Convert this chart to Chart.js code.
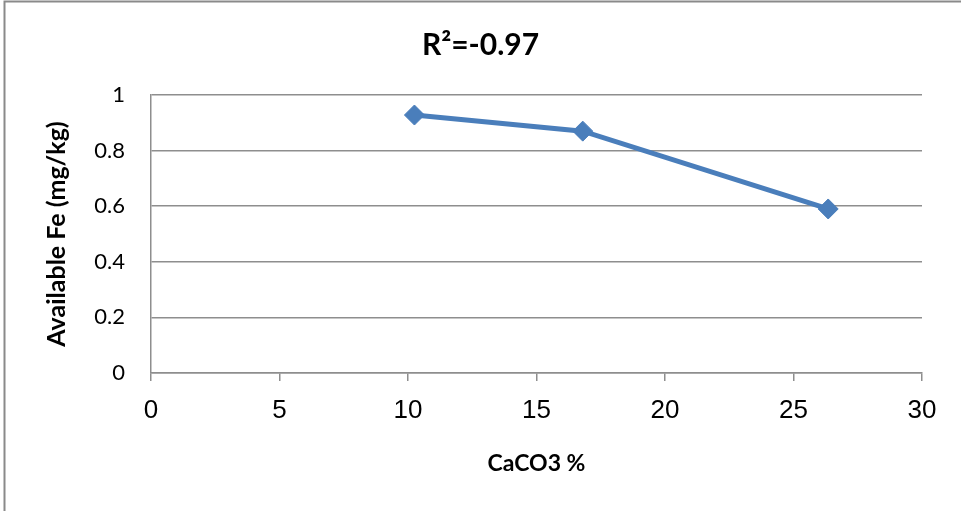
<!DOCTYPE html>
<html>
<head>
<meta charset="utf-8">
<title>Available Fe vs CaCO3</title>
<script src="https://cdn.jsdelivr.net/npm/chart.js@4/dist/chart.umd.min.js"></script>
<style>
  html, body { margin: 0; padding: 0; background: #ffffff; }
  #wrap { width: 961px; height: 511px; position: relative; }
</style>
</head>
<body>
<div id="wrap"><canvas id="chart" width="961" height="511"></canvas></div>
<script>
// CaCO3 content (%) and the matching available Fe (mg/kg)
const caco3Percent = [10.25, 16.8, 26.35];
const availableFe = [0.928, 0.870, 0.590];
const xTicks = [0, 5, 10, 15, 20, 25, 30];
const yTicks = [0, 0.2, 0.4, 0.6, 0.8, 1];
const chartTitle = 'R\u00B2=-0.97';
const xTitle = 'CaCO3 %';
const yTitle = 'Available Fe (mg/kg)';

const gridGray = '#8e8e8e';
const lineBlue = '#4a7ebb';
const boldFamily = 'Lato, "Open Sans", sans-serif';
const narrowFamily = '"Liberation Sans Narrow", "Liberation Sans", Arial, sans-serif';

// White page with the grey frame lines along the top and left
const framePlugin = {
  id: 'frame',
  beforeDraw(chart) {
    const ctx = chart.ctx;
    ctx.save();
    ctx.fillStyle = '#ffffff';
    ctx.fillRect(0, 0, chart.width, chart.height);
    ctx.strokeStyle = '#8a8a8a';
    ctx.lineWidth = 2;
    ctx.beginPath();
    ctx.moveTo(4.5, chart.height);
    ctx.lineTo(4.5, 1.5);
    ctx.lineTo(chart.width, 1.5);
    ctx.stroke();
    ctx.restore();
  }
};

new Chart(document.getElementById('chart'), {
  type: 'scatter',
  data: {
    datasets: [{
      data: caco3Percent.map((x, i) => ({ x: x, y: availableFe[i] })),
      showLine: true,
      borderColor: lineBlue,
      backgroundColor: lineBlue,
      borderWidth: 5,
      tension: 0,
      pointStyle: 'rectRot',
      pointRadius: 10,
      pointHoverRadius: 10,
      pointBorderWidth: 1,
      pointBorderColor: lineBlue
    }]
  },
  options: {
    responsive: false,
    animation: false,
    layout: { padding: { left: 0, right: 0, top: 0, bottom: 0 } },
    plugins: {
      legend: { display: false },
      tooltip: { enabled: false },
      title: {
        display: true,
        text: chartTitle,
        color: '#000000',
        font: { family: boldFamily, size: 30, weight: 'bold', lineHeight: 1.2 },
        padding: { top: 27, bottom: 32 }
      }
    },
    scales: {
      x: {
        type: 'linear',
        min: 0,
        max: 30,
        afterFit(scale) { scale.height = 138; },
        afterBuildTicks(scale) { scale.ticks = xTicks.map(v => ({ value: v })); },
        border: { display: true, color: gridGray, width: 1.5 },
        grid: {
          drawOnChartArea: false,
          drawTicks: true,
          tickLength: 8,
          color: gridGray,
          lineWidth: 1.5
        },
        ticks: {
          color: '#000000',
          padding: 14,
          maxRotation: 0,
          font: { family: narrowFamily, size: 26 }
        },
        title: {
          display: true,
          text: xTitle,
          color: '#000000',
          font: { family: boldFamily, size: 23, weight: 'bold', lineHeight: 1.2 },
          padding: { top: 0, bottom: 33.2 }
        }
      },
      y: {
        type: 'linear',
        min: 0,
        max: 1,
        afterFit(scale) { scale.width = 151; },
        afterBuildTicks(scale) { scale.ticks = yTicks.map(v => ({ value: v })); },
        border: { display: true, color: gridGray, width: 1.5 },
        grid: {
          drawTicks: false,
          color: gridGray,
          lineWidth: 1.5
        },
        ticks: {
          color: '#000000',
          padding: 26,
          font: { family: boldFamily, size: 22 },
          callback: v => String(Math.round(v * 10) / 10)
        },
        title: {
          display: true,
          text: yTitle,
          color: '#000000',
          font: { family: boldFamily, size: 25, weight: 'bold', lineHeight: 1.2 },
          padding: { top: 41.5, bottom: 0 }
        }
      },
      // Empty right-hand gutter so the plot ends at x = 30 with white space beyond
      gutter: {
        type: 'linear',
        position: 'right',
        display: true,
        afterFit(scale) { scale.width = 39; },
        border: { display: false },
        grid: { display: false, drawTicks: false },
        ticks: { display: false }
      }
    }
  },
  plugins: [framePlugin]
});
</script>
</body>
</html>
